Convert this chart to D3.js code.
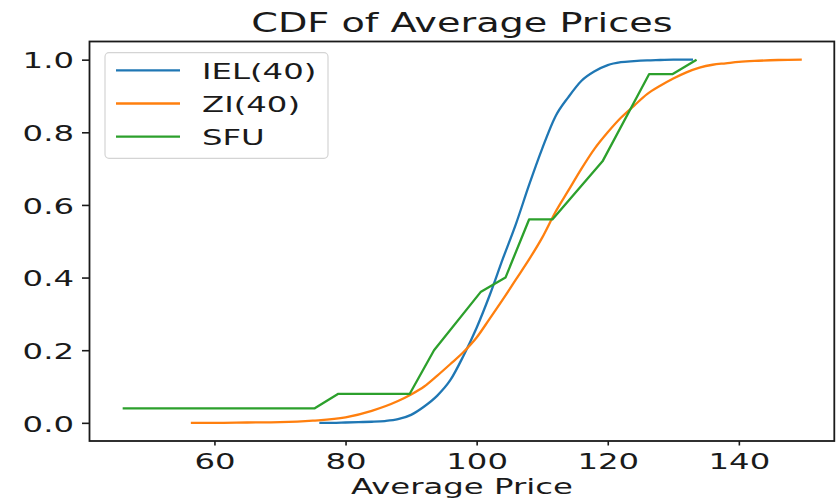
<!DOCTYPE html>
<html>
<head>
<meta charset="utf-8">
<script src="https://cdn.jsdelivr.net/npm/d3@7"></script>
<style>
  body { margin: 0; background: #fff; }
  svg { display: block; font-family: "DejaVu Sans", sans-serif; }
</style>
</head>
<body>
<svg class="chart" width="838" height="500"></svg>
<script>
/*
      Data
*/
const ielPrice = [76, 78, 80, 82, 84, 86, 88, 90, 92, 94, 96, 98, 100, 102, 104, 106, 108, 110, 112, 114, 116, 118, 120, 122, 124, 126, 128, 130, 133];
const ielCdf = [0, 0, 0.001, 0.002, 0.003, 0.005, 0.01, 0.022, 0.045, 0.075, 0.118, 0.185, 0.262, 0.352, 0.452, 0.548, 0.655, 0.755, 0.843, 0.897, 0.942, 0.968, 0.985, 0.993, 0.996, 0.998, 0.999, 1.0, 1.0];

const ziPrice = [56.4, 60, 65, 70, 75, 80, 84, 88, 90, 92, 94, 96, 98, 100, 102, 104, 106, 108, 110, 112, 114, 116, 118, 120, 122, 124, 126, 128, 130, 132, 134, 136, 138, 140, 143, 146, 149.6];
const ziCdf = [0, 0, 0.001, 0.002, 0.006, 0.015, 0.033, 0.06, 0.078, 0.1, 0.13, 0.162, 0.195, 0.235, 0.287, 0.34, 0.395, 0.45, 0.51, 0.58, 0.64, 0.7, 0.755, 0.8, 0.84, 0.873, 0.905, 0.928, 0.948, 0.965, 0.978, 0.986, 0.99, 0.994, 0.997, 0.999, 1.0];

const sfuPrice = [46.0, 75.3, 78.9, 89.8, 93.5, 100.6, 104.4, 108.0, 111.55, 119.2, 126.3, 129.85, 133.55];
const sfuCdf = [0.04, 0.04, 0.08, 0.08, 0.2, 0.36, 0.4, 0.56, 0.56, 0.72, 0.96, 0.96, 1.0];

const seriesNames = ["IEL(40)", "ZI(40)", "SFU"];
const seriesColors = ["#1f77b4", "#ff7f0e", "#2ca02c"];

const xTicks = [60, 80, 100, 120, 140];
const yTicks = [0, 0.2, 0.4, 0.6, 0.8, 1.0];

const titleText = "CDF of Average Prices";
const xLabelText = "Average Price";

/*
      Layout
*/
const SX = 1.47; // the picture is stretched sideways, text follows it
const plot = { left: 89.5, right: 834.3, top: 41.5, bottom: 441 };
const textColor = "#1a1a1a";

const svg = d3.select(".chart");

const x = d3.scaleLinear().domain([40.94, 154.56]).range([plot.left, plot.right]);
const y = d3.scaleLinear().domain([-0.05, 1.05]).range([plot.bottom, plot.top]);

const series = [
  { name: seriesNames[0], color: seriesColors[0], values: d3.zip(ielPrice, ielCdf), smooth: true },
  { name: seriesNames[1], color: seriesColors[1], values: d3.zip(ziPrice, ziCdf), smooth: true },
  { name: seriesNames[2], color: seriesColors[2], values: d3.zip(sfuPrice, sfuCdf), smooth: false },
];

function stretchedText(sel, tx, ty) {
  return sel.attr("x", 0).attr("y", 0).attr("transform", `translate(${tx},${ty}) scale(${SX},1)`);
}

/*
      Lines
*/
const line = d3
  .line()
  .x((d) => x(d[0]))
  .y((d) => y(d[1]));

svg
  .append("g")
  .selectAll("path")
  .data(series)
  .join("path")
  .attr("fill", "none")
  .attr("stroke", (d) => d.color)
  .attr("stroke-width", 2.3)
  .attr("stroke-linejoin", "round")
  .attr("d", (d) => line.curve(d.smooth ? d3.curveMonotoneX : d3.curveLinear)(d.values));

/*
      Axes
*/
const xAxis = svg
  .append("g")
  .attr("transform", `translate(0,${plot.bottom})`)
  .call(d3.axisBottom(x).tickValues(xTicks).tickSize(4.5).tickSizeOuter(0).tickFormat(d3.format("d")));

xAxis.select(".domain").remove();
xAxis.selectAll(".tick line").attr("stroke", textColor).attr("stroke-width", 1.6);
xAxis
  .selectAll(".tick text")
  .attr("dy", null)
  .attr("fill", textColor)
  .attr("font-size", 22)
  .attr("font-family", "DejaVu Sans")
  .each(function () {
    stretchedText(d3.select(this), 0, 28);
  });

const yAxis = svg
  .append("g")
  .attr("transform", `translate(${plot.left},0)`)
  .call(d3.axisLeft(y).tickValues(yTicks).tickSize(7.5).tickSizeOuter(0).tickFormat(d3.format(".1f")));

yAxis.select(".domain").remove();
yAxis.selectAll(".tick line").attr("stroke", textColor).attr("stroke-width", 1.6);
yAxis
  .selectAll(".tick text")
  .attr("dy", null)
  .attr("fill", textColor)
  .attr("font-size", 22)
  .attr("font-family", "DejaVu Sans")
  .each(function () {
    stretchedText(d3.select(this), -15.5, 8.2);
  });

// frame
svg
  .append("rect")
  .attr("x", plot.left)
  .attr("y", plot.top)
  .attr("width", plot.right - plot.left)
  .attr("height", plot.bottom - plot.top)
  .attr("fill", "none")
  .attr("stroke", textColor)
  .attr("stroke-width", 1.8);

/*
      Title and labels
*/
const midX = (plot.left + plot.right) / 2;

svg
  .append("text")
  .text(titleText)
  .attr("text-anchor", "middle")
  .attr("font-size", 26)
  .attr("fill", textColor)
  .call(stretchedText, midX, 32);

svg
  .append("text")
  .text(xLabelText)
  .attr("text-anchor", "middle")
  .attr("font-size", 22)
  .attr("fill", textColor)
  .call(stretchedText, midX, 494);

/*
      Legend
*/
const legend = svg.append("g");

legend
  .append("rect")
  .attr("x", 105)
  .attr("y", 52.7)
  .attr("width", 223)
  .attr("height", 105.6)
  .attr("rx", 4)
  .attr("fill", "#fff")
  .attr("fill-opacity", 0.8)
  .attr("stroke", "#d4d4d4")
  .attr("stroke-width", 1.2);

const rowY = d3.scaleLinear().domain([0, 2]).range([70.3, 136.7]);

const item = legend
  .selectAll("g.item")
  .data(series)
  .join("g")
  .attr("class", "item");

item
  .append("line")
  .attr("x1", 116)
  .attr("x2", 180)
  .attr("y1", (d, i) => rowY(i))
  .attr("y2", (d, i) => rowY(i))
  .attr("stroke", (d) => d.color)
  .attr("stroke-width", 2.3);

item
  .append("text")
  .text((d) => d.name)
  .attr("font-size", 22)
  .attr("fill", textColor)
  .each(function (d, i) {
    stretchedText(d3.select(this), 202, rowY(i) + 8.5);
  });
</script>
</body>
</html>
